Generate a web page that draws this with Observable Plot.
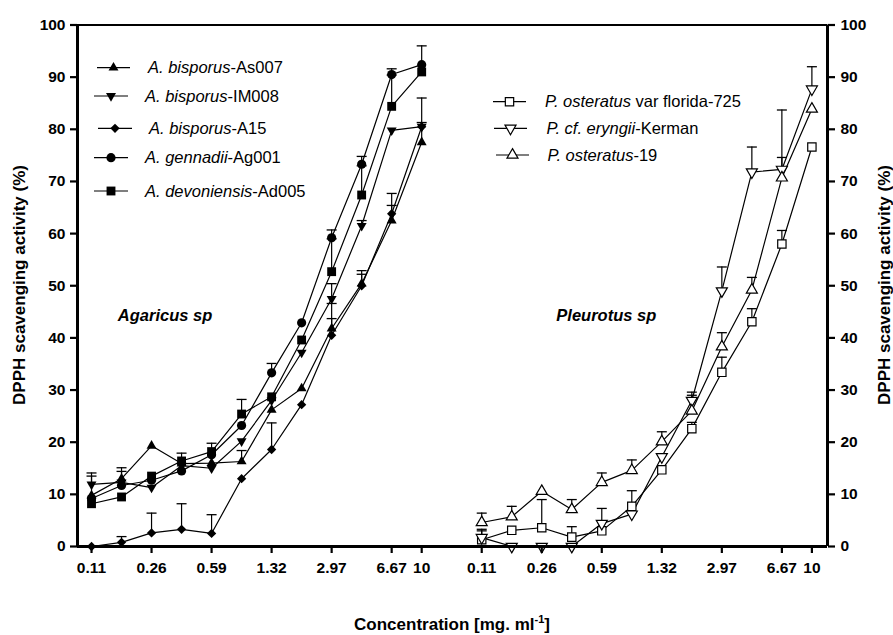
<!DOCTYPE html>
<html>
<head>
<meta charset="utf-8">
<script src="https://cdn.jsdelivr.net/npm/d3@7"></script>
<script src="https://cdn.jsdelivr.net/npm/@observablehq/plot@0.6"></script>
<style>
  html, body { margin: 0; padding: 0; background: #fff; }
  #chart { width: 893px; height: 635px; }
</style>
</head>
<body>
<div id="chart"></div>
<script>
// ---------------- data ----------------
const concentrations = [0.11, 0.17, 0.26, 0.39, 0.59, 0.88, 1.32, 1.98, 2.97, 4.45, 6.67, 10];
const tickConcentrations = [0.11, 0.26, 0.59, 1.32, 2.97, 6.67, 10];
const tickLabels = ["0.11", "0.26", "0.59", "1.32", "2.97", "6.67", "10"];
const yTicks = [0, 10, 20, 30, 40, 50, 60, 70, 80, 90, 100];
const panelNames = ["Agaricus sp", "Pleurotus sp"];

// Agaricus sp (filled markers)
const as007Mean = [9.8, 13.0, 19.3, 15.9, 16.0, 16.3, 26.2, 30.3, 41.8, 50.4, 62.5, 77.5];
const as007Sd   = [3.7, 1.4, 0, 0, 0, 2.1, 0, 0, 1.9, 1.8, 2.9, 3.8];
const im008Mean = [11.9, 12.3, 11.3, 15.5, 15.0, 20.2, 28.0, 37.2, 47.5, 61.5, 79.8, 80.5];
const im008Sd   = [2.2, 2.8, 0, 0, 0, 0, 0, 0, 2.9, 1.0, 0, 0];
const a15Mean   = [0, 0.8, 2.6, 3.3, 2.5, 13.0, 18.6, 27.2, 40.5, 50.0, 63.8, 80.5];
const a15Sd     = [0, 1.1, 3.8, 4.9, 3.6, 0, 5.1, 0, 6.1, 2.9, 3.9, 5.5];
const ag001Mean = [9.2, 11.7, 12.7, 14.5, 17.6, 23.2, 33.3, 42.9, 59.2, 73.3, 90.5, 92.4];
const ag001Sd   = [0, 0, 0, 0, 0, 0, 1.8, 0, 1.5, 1.5, 1.1, 3.6];
const ad005Mean = [8.2, 9.5, 13.5, 16.4, 18.2, 25.4, 28.7, 39.6, 52.7, 67.4, 84.4, 91.0];
const ad005Sd   = [0, 0, 0, 1.5, 1.6, 2.8, 0, 0, 6.3, 5.6, 6.0, 0];

// Pleurotus sp (open markers)
const floridaMean = [1.3, 3.1, 3.6, 1.8, 3.0, 7.7, 14.7, 22.6, 33.4, 43.1, 58.0, 76.6];
const floridaSd   = [1.7, 0, 5.4, 2.0, 0, 3.0, 0, 1.2, 2.9, 2.5, 2.6, 0];
const kermanMean  = [1.7, 0, 0, 0, 4.4, 6.2, 17.2, 28.0, 49.0, 71.8, 72.3, 87.7];
const kermanSd    = [1.6, 0, 0, 0, 2.9, 0, 0, 1.6, 4.6, 4.8, 11.4, 4.3];
const ost19Mean   = [4.6, 5.7, 10.6, 7.1, 12.3, 14.6, 20.1, 26.0, 38.3, 49.2, 70.7, 83.9];
const ost19Sd     = [1.8, 2.0, 0, 1.9, 1.8, 2.0, 1.9, 3.0, 2.7, 2.4, 3.9, 0];

// ---------------- symbols ----------------
const symTriangleDown = {
  draw(context, size) {
    const y = -Math.sqrt(size / (Math.sqrt(3) * 3));
    context.moveTo(0, -y * 2);
    context.lineTo(-Math.sqrt(3) * y, y);
    context.lineTo(Math.sqrt(3) * y, y);
    context.closePath();
  }
};
const symCap = {
  draw(context, size) {
    const w = Math.sqrt(size) / 2;
    context.moveTo(-w, 0);
    context.lineTo(w, 0);
  }
};

// panel 0 occupies positions 0..11, panel 1 positions 13..24 (equal category spacing)
const panelOffset = [0, 13];

const series = [
  {panel: 0, italic: "A. bisporus", rest: "-As007", mean: as007Mean, sd: as007Sd, symbol: d3.symbolTriangle, r: 3.7, fill: "black"},
  {panel: 0, italic: "A. bisporus", rest: "-IM008", mean: im008Mean, sd: im008Sd, symbol: symTriangleDown, r: 3.7, fill: "black"},
  {panel: 0, italic: "A. bisporus", rest: "-A15", mean: a15Mean, sd: a15Sd, symbol: d3.symbolDiamond2, r: 4.2, fill: "black"},
  {panel: 0, italic: "A. gennadii", rest: "-Ag001", mean: ag001Mean, sd: ag001Sd, symbol: d3.symbolCircle, r: 4.6, fill: "black"},
  {panel: 0, italic: "A. devoniensis", rest: "-Ad005", mean: ad005Mean, sd: ad005Sd, symbol: d3.symbolSquare, r: 5.0, fill: "black"},
  {panel: 1, italic: "P. osteratus", rest: " var florida-725", mean: floridaMean, sd: floridaSd, symbol: d3.symbolSquare, r: 4.7, fill: "white"},
  {panel: 1, italic: "P. cf. eryngii", rest: "-Kerman", mean: kermanMean, sd: kermanSd, symbol: symTriangleDown, r: 4.1, fill: "white"},
  {panel: 1, italic: "P. osteratus", rest: "-19", mean: ost19Mean, sd: ost19Sd, symbol: d3.symbolTriangle, r: 4.1, fill: "white"}
];

series.forEach(s => {
  s.rows = concentrations.map((c, i) => ({
    pos: i + panelOffset[s.panel], conc: c, mean: s.mean[i], sd: s.sd[i]
  }));
});

// tick positions on combined axis
const tickRows = [];
panelOffset.forEach(off => {
  tickConcentrations.forEach((c, k) => {
    tickRows.push({pos: concentrations.indexOf(c) + off, label: tickLabels[k]});
  });
});
const tickLabelByPos = new Map(tickRows.map(d => [d.pos, d.label]));

const X_MIN = -0.467, X_MAX = 24.52;
const FONT = "Liberation Sans, Arial, Helvetica, sans-serif";

const marks = [];
// series lines
series.forEach(s => {
  marks.push(Plot.line(s.rows, {x: "pos", y: "mean", stroke: "black", strokeWidth: 1.2}));
});
// error bars (upper)
series.forEach(s => {
  const e = s.rows.filter(d => d.sd > 0);
  marks.push(Plot.ruleX(e, {x: "pos", y1: "mean", y2: d => d.mean + d.sd, stroke: "black", strokeWidth: 1.2}));
  marks.push(Plot.dot(e, {x: "pos", y: d => d.mean + d.sd, symbol: symCap, r: 5.64, stroke: "black", strokeWidth: 1.3, fill: "none"}));
});
// markers
series.forEach(s => {
  marks.push(Plot.dot(s.rows, {
    x: "pos", y: "mean", symbol: s.symbol, r: s.r,
    fill: s.fill, stroke: s.fill === "black" ? "none" : "black", strokeWidth: 1.2
  }));
});

// frame / axes lines
marks.push(Plot.ruleY([100], {stroke: "black", strokeWidth: 2}));
marks.push(Plot.ruleY([0], {stroke: "black", strokeWidth: 3}));
marks.push(Plot.ruleX([X_MIN], {stroke: "black", strokeWidth: 3}));
marks.push(Plot.ruleX([X_MAX], {stroke: "black", strokeWidth: 3}));

const axisText = {fontSize: 15.5, fontWeight: "bold", fontFamily: FONT, label: null};
marks.push(Plot.axisY(yTicks, {anchor: "left", tickSize: 7, tickPadding: 5, strokeWidth: 2.2, ...axisText}));
marks.push(Plot.axisY(yTicks, {anchor: "right", tickSize: 7, tickPadding: 6, strokeWidth: 2.2, ...axisText}));
marks.push(Plot.axisX(tickRows.map(d => d.pos), {anchor: "bottom", tickSize: 7, tickPadding: 8, strokeWidth: 2.2,
  tickFormat: d => tickLabelByPos.get(d), ...axisText}));

// panel labels
marks.push(Plot.text(panelNames, {
  x: [2.45, 17.15], y: [44.2, 44.2], text: d => d,
  fontSize: 16.5, fontWeight: "bold", fontStyle: "italic", fontFamily: FONT, fill: "black"
}));

const plot = Plot.plot({
  width: 893,
  height: 635,
  marginLeft: 77,
  marginRight: 66,
  marginTop: 24.5,
  marginBottom: 89,
  style: {fontFamily: FONT, background: "white"},
  x: {type: "linear", domain: [X_MIN, X_MAX], label: null},
  y: {type: "linear", domain: [0, 100], label: null},
  marks
});

document.getElementById("chart").appendChild(plot);

// ---------------- titles & legends ----------------
const svg = d3.select(plot);

function titleText(x, y, rotate) {
  return svg.append("text")
    .attr("transform", `translate(${x},${y})` + (rotate ? " rotate(-90)" : ""))
    .attr("text-anchor", "middle")
    .attr("font-family", FONT)
    .attr("font-size", 17)
    .attr("font-weight", "bold")
    .attr("fill", "black");
}
titleText(19, 285, true).attr("dy", "0.35em").text("DPPH scavenging activity (%)");
titleText(884, 285, true).attr("dy", "0.35em").text("DPPH scavenging activity (%)");
const xt = titleText(452, 630, false);
xt.append("tspan").text("Concentration [mg. ml");
xt.append("tspan").attr("font-size", 11).attr("dy", -7).text("-1");
xt.append("tspan").attr("dy", 7).text("]");

const leftLegendLayout = [
  {x1: 97, x2: 130, y: 67.7, tx: 148},
  {x1: 94, x2: 128, y: 96, tx: 145},
  {x1: 98, x2: 132, y: 128.3, tx: 149},
  {x1: 94, x2: 128, y: 157.7, tx: 145},
  {x1: 94, x2: 128, y: 191, tx: 145}
];
const rightLegendLayout = [
  {x1: 493, x2: 526, y: 101.7, tx: 545},
  {x1: 494, x2: 527, y: 128.3, tx: 546.5},
  {x1: 496, x2: 529, y: 155, tx: 547.5}
];
const legendGroup = svg.append("g").attr("text-anchor", "start");
function legendRow(s, L) {
  legendGroup.append("line")
    .attr("x1", L.x1).attr("x2", L.x2).attr("y1", L.y).attr("y2", L.y)
    .attr("stroke", "black").attr("stroke-width", 1.2);
  legendGroup.append("path")
    .attr("transform", `translate(${(L.x1 + L.x2) / 2},${L.y})`)
    .attr("d", d3.symbol(s.symbol, Math.PI * s.r * s.r)())
    .attr("fill", s.fill)
    .attr("stroke", s.fill === "black" ? "none" : "black")
    .attr("stroke-width", 1.2);
  const t = legendGroup.append("text")
    .attr("x", L.tx).attr("y", L.y).attr("dy", "0.35em")
    .attr("text-anchor", "start")
    .attr("font-family", FONT).attr("font-size", 16.5).attr("fill", "black");
  t.append("tspan").attr("font-style", "italic").text(s.italic);
  t.append("tspan").text(s.rest);
}
series.filter(s => s.panel === 0).forEach((s, i) => legendRow(s, leftLegendLayout[i]));
series.filter(s => s.panel === 1).forEach((s, i) => legendRow(s, rightLegendLayout[i]));
</script>
</body>
</html>
